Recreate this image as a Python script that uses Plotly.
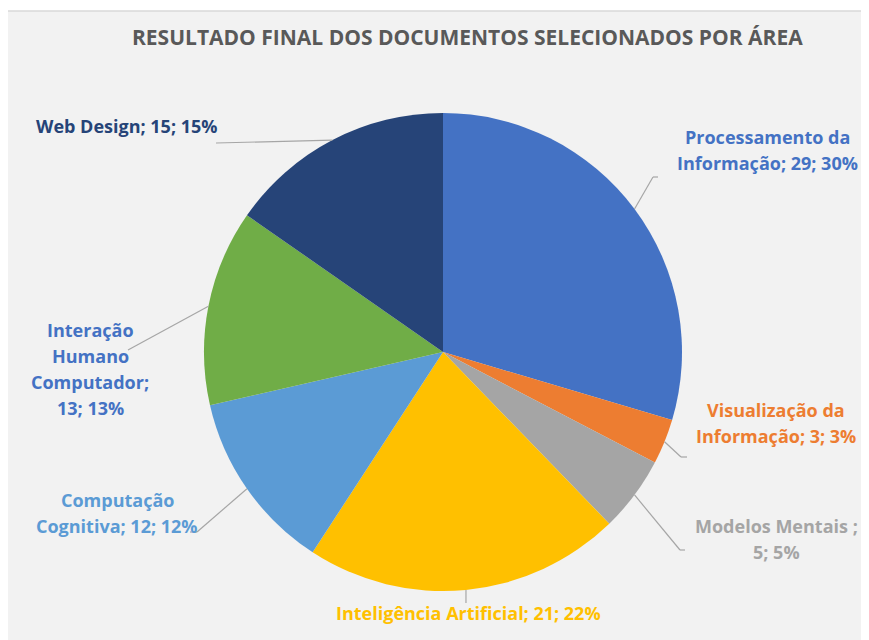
import math

import plotly.graph_objects as go

# data
areas = ['Processamento da Informação', 'Visualização da Informação', 'Modelos Mentais',
         'Inteligência Artificial', 'Computação Cognitiva', 'Interação Humano Computador', 'Web Design']
docs = [29, 3, 5, 21, 12, 13, 15]
pct_labels = ['30%', '3%', '5%', '22%', '12%', '13%', '15%']
slice_colors = ['#4472C4', '#ED7D31', '#A5A5A5', '#FFC000', '#5B9BD5', '#70AD47', '#264478']
text_colors = ['#4472C4', '#ED7D31', '#A5A5A5', '#FFC000', '#5B9BD5', '#4472C4', '#264478']

# how each label is broken into lines (Excel wraps them)
label_lines = [
    ['Processamento da', 'Informação; {v}; {p}'],
    ['Visualização da', 'Informação; {v}; {p}'],
    ['Modelos Mentais ;', '{v}; {p}'],
    ['Inteligência Artificial; {v}; {p}'],
    ['Computação', 'Cognitiva; {v}; {p}'],
    ['Interação', 'Humano', 'Computador;', '{v}; {p}'],
    ['Web Design; {v}; {p}'],
]

# layout in pixels (page coords of the reference)
W, H = 869, 640
OFF = 8  # the html body margin shifts the plot by 8px
cx, cy, R = 443, 352, 239
FONT = 'Open Sans'
FS = 18
LINE_H = 26

# label centre (x, y of first line) and leader-line elbow points
label_pos = [(767, 137), (776, 410), (776, 526), (468, 613), (117, 500), (90, 330), (127, 126)]
elbows = [
    [(653, 177), (658, 177)],
    [(681, 457), (687, 457)],
    [(680, 550), (685, 550)],
    [(466, 603)],
    [(197, 532), (190, 532)],
    [(128, 350)],
    [(216, 143)],
]


def px(x):
    return (x - OFF) / W


def py(y):
    return 1 - (y - OFF) / H


fig = go.Figure(go.Pie(
    labels=areas, values=docs, sort=False, direction='clockwise', rotation=0,
    marker=dict(colors=slice_colors, line=dict(width=0)),
    textinfo='none', hoverinfo='label+value+percent',
    domain=dict(x=[px(cx - R), px(cx + R)], y=[py(cy + R), py(cy - R)]),
    showlegend=False,
))

shapes = [dict(type='rect', xref='paper', yref='paper', x0=px(6), x1=1.02, y0=-0.02, y1=py(11),
               fillcolor='#F2F2F2', line=dict(color='#D9D9D9', width=1.5), layer='below')]
annotations = []

total = sum(docs)
start = 0.0
for i, v in enumerate(docs):
    mid = start + v / total * 180
    start += v / total * 360
    a = math.radians(mid)
    pts = [(cx + R * math.sin(a), cy - R * math.cos(a))] + elbows[i]
    for (x0, y0), (x1, y1) in zip(pts[:-1], pts[1:]):
        shapes.append(dict(type='line', xref='paper', yref='paper', x0=px(x0), y0=py(y0),
                           x1=px(x1), y1=py(y1), line=dict(color='#A6A6A6', width=1.2)))
    lx, ly = label_pos[i]
    for j, line in enumerate(label_lines[i]):
        annotations.append(dict(
            x=px(lx), y=py(ly + j * LINE_H), xref='paper', yref='paper', showarrow=False,
            xanchor='center', yanchor='middle',
            text='<b>' + line.format(v=v, p=pct_labels[i]) + '</b>',
            font=dict(family=FONT, size=FS, color=text_colors[i])))

annotations.append(dict(
    x=px(467), y=py(37), xref='paper', yref='paper', showarrow=False,
    xanchor='center', yanchor='middle',
    text='<b>RESULTADO FINAL DOS DOCUMENTOS SELECIONADOS POR ÁREA</b>',
    font=dict(family=FONT, size=21, color='#595959')))

fig.update_layout(
    width=W, height=H, margin=dict(l=0, r=0, t=0, b=0),
    paper_bgcolor='white', plot_bgcolor='white',
    shapes=shapes, annotations=annotations,
)

fig.write_html('out.html')
